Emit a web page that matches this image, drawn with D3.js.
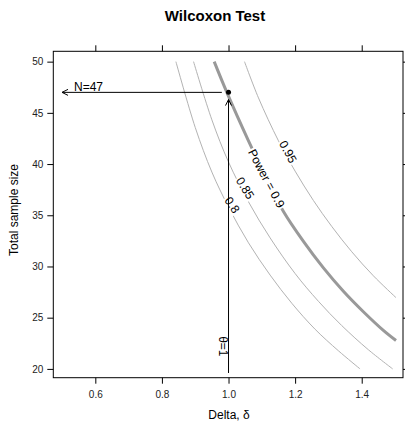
<!DOCTYPE html>
<html>
<head>
<meta charset="utf-8">
<script src="https://cdn.jsdelivr.net/npm/d3@7"></script>
<style>
  body { margin: 0; background: #fff; }
  text { font-family: "Liberation Sans", Arial, sans-serif; }
</style>
</head>
<body>
<svg id="chart" width="405" height="422"></svg>
<script>
// ticks
const deltaTicks = [0.6, 0.8, 1.0, 1.2, 1.4];
const nTicks = [20, 25, 30, 35, 40, 45, 50];

// power curves (delta, total N)
const delta80 = [0.842, 0.9, 0.95, 1.0, 1.06, 1.125, 1.19, 1.26, 1.33, 1.395];
const n80     = [50, 43.58, 39.22, 35.8, 32.31, 29.16, 26.41, 23.87, 21.77, 20];
const delta85 = [0.895, 0.95, 1.0, 1.06, 1.125, 1.2, 1.27, 1.34, 1.42, 1.493];
const n85     = [50, 44.32, 40.2, 36.31, 32.79, 29.31, 26.6, 24.23, 21.87, 20];
const delta90 = [0.957, 0.995, 1.06, 1.12, 1.165, 1.225, 1.285, 1.345, 1.405, 1.465, 1.503];
const n90     = [50, 47, 42.27, 38.19, 35.37, 32.45, 29.86, 27.58, 25.58, 23.76, 22.77];
const delta95 = [1.048, 1.09, 1.15, 1.2, 1.255, 1.31, 1.37, 1.435, 1.503];
const n95     = [50, 46.46, 42.27, 39.31, 36.44, 33.91, 31.44, 29.09, 26.96];

// chosen design point
const designDelta = 1.0;
const designN = 47;
const arrowLeft = 0.5;
const arrowBottom = 19.6;

const svg = d3.select("#chart");
const panel = {left: 53.3, top: 51.3, right: 403, bottom: 377.7};

const x = d3.scaleLinear().domain([0.4738, 1.524]).range([panel.left, panel.right]);
const y = d3.scaleLinear().domain([19.14, 51.01]).range([panel.bottom, panel.top]);

// title
svg.append("text")
    .attr("x", 215).attr("y", 20.7)
    .attr("text-anchor", "middle")
    .style("font-size", "15px").style("font-weight", "bold")
    .text("Wilcoxon Test");

// axes
function styleAxis(g) {
  g.select(".domain").remove();
  g.selectAll("line").attr("stroke", "#000");
  g.selectAll("text").style("font-size", "10px").attr("fill", "#222");
}
svg.append("g")
    .attr("transform", "translate(" + panel.left + ",0)")
    .call(d3.axisLeft(y).tickValues(nTicks).tickSize(6).tickPadding(4))
    .call(styleAxis);
svg.append("g")
    .attr("transform", "translate(0," + panel.bottom + ")")
    .call(d3.axisBottom(x).tickValues(deltaTicks).tickSize(6).tickPadding(7).tickFormat(d3.format(".1f")))
    .call(styleAxis);
svg.append("g")
    .attr("transform", "translate(0," + panel.top + ")")
    .call(d3.axisTop(x).tickValues(deltaTicks).tickSize(6).tickFormat(""))
    .call(styleAxis);
svg.append("g")
    .attr("transform", "translate(" + panel.right + ",0)")
    .call(d3.axisRight(y).tickValues(nTicks).tickSize(6).tickFormat(""))
    .call(styleAxis);

svg.append("rect")
    .attr("x", panel.left).attr("y", panel.top)
    .attr("width", panel.right - panel.left).attr("height", panel.bottom - panel.top)
    .attr("fill", "none").attr("stroke", "#000").attr("stroke-width", 1);

// axis titles
svg.append("text")
    .attr("x", 229).attr("y", 419)
    .attr("text-anchor", "middle")
    .style("font-size", "12px")
    .text("Delta, \u03b4");
svg.append("text")
    .attr("transform", "translate(18,210) rotate(-90)")
    .attr("text-anchor", "middle")
    .style("font-size", "12px")
    .text("Total sample size");

// curves
const line = d3.line().x(d => x(d[0])).y(d => y(d[1])).curve(d3.curveCatmullRom);
const curves = [
  {d: delta80, n: n80, w: 1, c: "#b3b3b3"},
  {d: delta85, n: n85, w: 1, c: "#b3b3b3"},
  {d: delta95, n: n95, w: 1, c: "#b3b3b3"},
  {d: delta90, n: n90, w: 3, c: "#999999"}
];
const plot = svg.append("g");
curves.forEach(cv => {
  plot.append("path")
      .datum(d3.zip(cv.d, cv.n))
      .attr("d", line)
      .attr("fill", "none")
      .attr("stroke", cv.c)
      .attr("stroke-width", cv.w);
});

// contour labels, with a white gap behind each
const contourLabels = [
  {text: "0.8", delta: 1.011, n: 36.0, angle: 56},
  {text: "0.85", delta: 1.05, n: 37.65, angle: 58},
  {text: "Power = 0.9", delta: 1.114, n: 38.6, angle: 62},
  {text: "0.95", delta: 1.179, n: 41.2, angle: 61}
];
contourLabels.forEach(l => {
  const g = plot.append("g")
      .attr("transform", "translate(" + x(l.delta) + "," + y(l.n) + ") rotate(" + l.angle + ")");
  const t = g.append("text")
      .attr("text-anchor", "middle")
      .attr("dy", "0.35em")
      .style("font-size", "12px")
      .text(l.text);
  const bb = t.node().getBBox();
  g.insert("rect", "text")
      .attr("x", bb.x - 1).attr("y", bb.y + 1)
      .attr("width", bb.width + 2).attr("height", bb.height - 2)
      .attr("fill", "#fff");
});

// design point and arrows
const ann = svg.append("g").attr("stroke", "#000").attr("fill", "none").attr("stroke-width", 1);
const py = y(designN);
ann.append("line")
    .attr("x1", x(0.98)).attr("x2", x(arrowLeft))
    .attr("y1", py).attr("y2", py);
ann.append("path")
    .attr("d", "M" + (x(arrowLeft) + 6) + "," + (py - 3) + "L" + x(arrowLeft) + "," + py + "L" + (x(arrowLeft) + 6) + "," + (py + 3));
const px = x(designDelta);
const tipY = y(46.3);
ann.append("line")
    .attr("x1", px).attr("x2", px)
    .attr("y1", y(arrowBottom)).attr("y2", tipY);
ann.append("path")
    .attr("d", "M" + (px - 3) + "," + (tipY + 6) + "L" + px + "," + tipY + "L" + (px + 3) + "," + (tipY + 6));

svg.append("circle")
    .attr("cx", px).attr("cy", py).attr("r", 2.5)
    .attr("fill", "#000");

svg.append("text")
    .attr("x", x(arrowLeft) + 12).attr("y", py - 1)
    .style("font-size", "12px")
    .text("N=" + designN);

svg.append("text")
    .attr("transform", "translate(" + (px - 9.3) + "," + y(22.2) + ") rotate(90)")
    .attr("text-anchor", "middle")
    .style("font-size", "12px")
    .text("\u03b8=1");
</script>
</body>
</html>
